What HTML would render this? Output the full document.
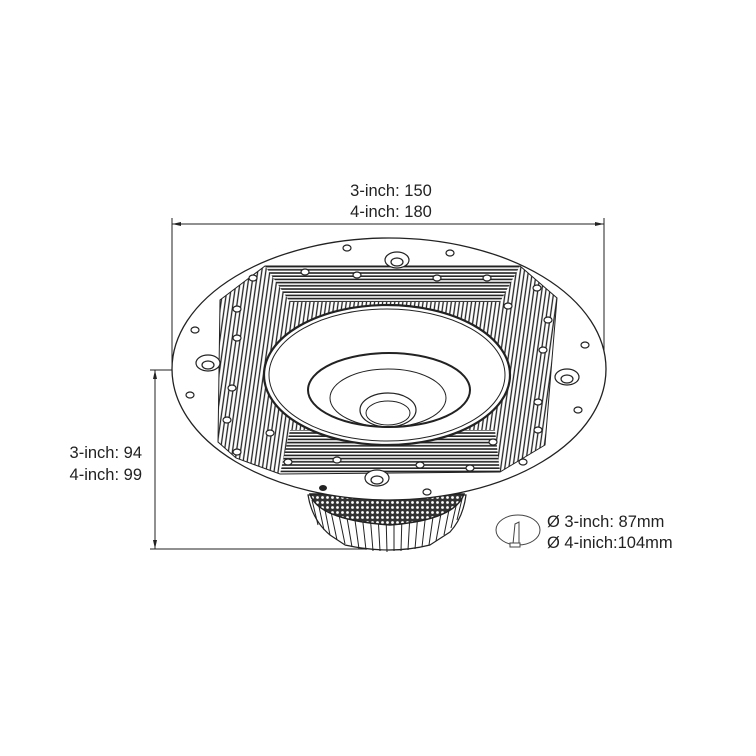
<!DOCTYPE html>
<html><head><meta charset="utf-8"><style>
html,body{margin:0;padding:0;background:#fff;}
svg{display:block;}
text{font-family:"Liberation Sans",Arial,sans-serif;font-size:16.5px;fill:#222;}
</style></head><body>
<svg width="756" height="756" viewBox="0 0 756 756" xmlns="http://www.w3.org/2000/svg">
<defs>
<pattern id="vl" width="4" height="4" patternUnits="userSpaceOnUse" patternTransform="rotate(8)">
<rect width="4" height="4" fill="#fff"/><line x1="1" y1="0" x2="1" y2="4" stroke="#222" stroke-width="1.3"/>
</pattern>
<pattern id="hl" width="6" height="3.2" patternUnits="userSpaceOnUse">
<rect width="6" height="3.2" fill="#fff"/><line x1="0" y1="1" x2="6" y2="1" stroke="#222" stroke-width="1.6"/>
</pattern>
<pattern id="mesh" width="5" height="5" patternUnits="userSpaceOnUse">
<rect width="5" height="5" fill="#333"/><circle cx="2.5" cy="2.5" r="1.4" fill="#fff"/>
</pattern>
</defs>

<!-- dimensions top -->
<text x="391" y="196" text-anchor="middle">3-inch: 150</text>
<text x="391" y="217" text-anchor="middle">4-inch: 180</text>
<line x1="172" y1="224" x2="604" y2="224" stroke="#222" stroke-width="1"/>
<polygon points="172,224 181,222 181,226" fill="#222"/>
<polygon points="604,224 595,222 595,226" fill="#222"/>
<line x1="172" y1="218" x2="172" y2="365" stroke="#222" stroke-width="1"/>
<line x1="604" y1="218" x2="604" y2="365" stroke="#222" stroke-width="1"/>

<!-- dimensions left -->
<line x1="150" y1="370" x2="266" y2="370" stroke="#222" stroke-width="1"/>
<line x1="150" y1="549" x2="365" y2="549" stroke="#222" stroke-width="1"/>
<line x1="155" y1="370" x2="155" y2="549" stroke="#222" stroke-width="1"/>
<polygon points="155,370 153,379 157,379" fill="#222"/>
<polygon points="155,549 153,540 157,540" fill="#222"/>
<text x="142" y="458" text-anchor="end">3-inch: 94</text>
<text x="142" y="480" text-anchor="end">4-inch: 99</text>

<!-- heatsink -->
<path d="M308,495 Q312,520 330,535 L345,545 Q390,555 430,545 L450,532 Q463,518 466,495 Z" fill="#fff" stroke="#222" stroke-width="1.2"/>
<g stroke="#222" stroke-width="1">
<line x1="312" y1="500" x2="318" y2="525"/><line x1="318" y1="502" x2="324" y2="530"/><line x1="324" y1="505" x2="330" y2="535"/><line x1="330" y1="507" x2="337" y2="540"/><line x1="338" y1="510" x2="345" y2="544"/><line x1="346" y1="512" x2="352" y2="547"/><line x1="354" y1="513" x2="359" y2="549"/><line x1="362" y1="514" x2="366" y2="550"/><line x1="370" y1="514" x2="373" y2="551"/><line x1="378" y1="515" x2="380" y2="551"/><line x1="386" y1="515" x2="387" y2="552"/><line x1="394" y1="515" x2="394" y2="551"/><line x1="402" y1="515" x2="401" y2="551"/><line x1="410" y1="514" x2="408" y2="550"/><line x1="418" y1="513" x2="415" y2="549"/><line x1="426" y1="512" x2="422" y2="547"/><line x1="434" y1="510" x2="429" y2="545"/><line x1="442" y1="508" x2="436" y2="541"/><line x1="450" y1="505" x2="444" y2="535"/><line x1="457" y1="502" x2="451" y2="528"/><line x1="462" y1="499" x2="457" y2="520"/>
</g>
<path d="M310,494 Q318,520 390,525 Q455,520 464,494 Z" fill="url(#mesh)" stroke="#222" stroke-width="1.5"/>

<!-- flange -->
<ellipse cx="389" cy="369" rx="217" ry="131" fill="#fff" stroke="#222" stroke-width="1.3"/>

<!-- hatch regions -->
<polygon points="265,266 520,266 557,298 545,445 500,472 280,474 236,458 218,442 220,300" fill="url(#vl)"/>
<polygon points="265,266 520,266 500,302 290,302" fill="url(#hl)"/>
<polygon points="290,430 495,430 500,472 280,474" fill="url(#hl)"/>
<polygon points="265,266 520,266 557,298 545,445 500,472 280,474 236,458 218,442 220,300" fill="none" stroke="#222" stroke-width="1"/>

<!-- bowl -->
<ellipse cx="387" cy="375" rx="123" ry="70" fill="#fff" stroke="#222" stroke-width="2.2"/>
<ellipse cx="387" cy="375" rx="118" ry="66" fill="none" stroke="#222" stroke-width="1"/>
<ellipse cx="389" cy="390" rx="81" ry="37" fill="none" stroke="#222" stroke-width="2"/>
<ellipse cx="388" cy="398" rx="58" ry="29" fill="none" stroke="#222" stroke-width="1"/>
<ellipse cx="388" cy="410" rx="28" ry="17" fill="none" stroke="#222" stroke-width="1.2"/>
<ellipse cx="388" cy="413" rx="22" ry="12" fill="none" stroke="#222" stroke-width="1"/>

<!-- holes -->
<g fill="#fff" stroke="#222" stroke-width="1.2">
<ellipse cx="347" cy="248" rx="4" ry="3"/><ellipse cx="450" cy="253" rx="4" ry="3"/>
<ellipse cx="253" cy="278" rx="4" ry="3"/><ellipse cx="537" cy="288" rx="4" ry="3"/>
<ellipse cx="195" cy="330" rx="4" ry="3"/><ellipse cx="585" cy="345" rx="4" ry="3"/>
<ellipse cx="190" cy="395" rx="4" ry="3"/><ellipse cx="578" cy="410" rx="4" ry="3"/>
<ellipse cx="237" cy="452" rx="4" ry="3"/><ellipse cx="523" cy="462" rx="4" ry="3"/>
<ellipse cx="427" cy="492" rx="4" ry="3"/>
<ellipse cx="397" cy="260" rx="12" ry="8"/><ellipse cx="397" cy="262" rx="6" ry="4"/>
<ellipse cx="208" cy="363" rx="12" ry="8"/><ellipse cx="208" cy="365" rx="6" ry="4"/>
<ellipse cx="567" cy="377" rx="12" ry="8"/><ellipse cx="567" cy="379" rx="6" ry="4"/>
<ellipse cx="377" cy="478" rx="12" ry="8"/><ellipse cx="377" cy="480" rx="6" ry="4"/>
<ellipse cx="305" cy="272" rx="4" ry="3"/><ellipse cx="357" cy="275" rx="4" ry="3"/>
<ellipse cx="437" cy="278" rx="4" ry="3"/><ellipse cx="487" cy="278" rx="4" ry="3"/>
<ellipse cx="237" cy="309" rx="4" ry="3"/><ellipse cx="508" cy="306" rx="4" ry="3"/>
<ellipse cx="548" cy="320" rx="4" ry="3"/><ellipse cx="237" cy="338" rx="4" ry="3"/>
<ellipse cx="543" cy="350" rx="4" ry="3"/><ellipse cx="232" cy="388" rx="4" ry="3"/>
<ellipse cx="538" cy="402" rx="4" ry="3"/><ellipse cx="227" cy="420" rx="4" ry="3"/>
<ellipse cx="538" cy="430" rx="4" ry="3"/><ellipse cx="270" cy="433" rx="4" ry="3"/>
<ellipse cx="493" cy="442" rx="4" ry="3"/><ellipse cx="288" cy="462" rx="4" ry="3"/>
<ellipse cx="337" cy="460" rx="4" ry="3"/><ellipse cx="420" cy="465" rx="4" ry="3"/>
<ellipse cx="470" cy="468" rx="4" ry="3"/>
</g>
<ellipse cx="323" cy="488" rx="4" ry="3" fill="#222"/>

<!-- cutout icon -->
<ellipse cx="518" cy="530" rx="22" ry="15" fill="none" stroke="#444" stroke-width="1"/>
<path d="M515,524 L519,522 L519,544 L513,544 Z" fill="#fff" stroke="#444" stroke-width="1"/>
<rect x="510" y="543" width="10" height="4" fill="#fff" stroke="#444" stroke-width="1"/>
<text x="547" y="527">Ø 3-inch: 87mm</text>
<text x="547" y="548">Ø 4-inich:104mm</text>
</svg>
</body></html>
